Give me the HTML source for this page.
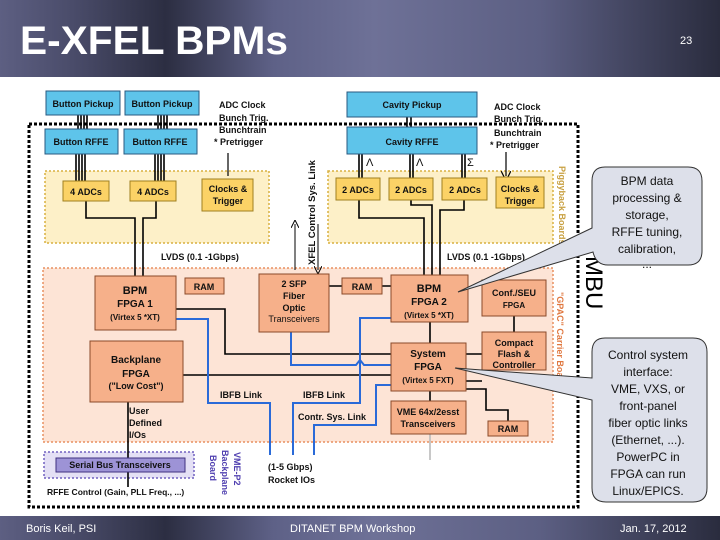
<!DOCTYPE html>
<html><head><meta charset="utf-8"><style>
html,body{margin:0;padding:0;width:720px;height:540px;overflow:hidden;background:#fff}
svg{display:block}
text{font-family:"Liberation Sans",sans-serif}
</style></head><body>
<svg width="720" height="540" viewBox="0 0 720 540" xmlns="http://www.w3.org/2000/svg">
<defs>
<linearGradient id="hd" x1="0" x2="1" y1="0" y2="0">
<stop offset="0" stop-color="#5d5f82"/><stop offset="0.1" stop-color="#4a4c6a"/><stop offset="0.23" stop-color="#2c2e42"/><stop offset="0.38" stop-color="#5e6187"/><stop offset="0.52" stop-color="#6e7197"/><stop offset="0.75" stop-color="#5c5f83"/><stop offset="1" stop-color="#2a2c3e"/>
</linearGradient>
<marker id="ar" markerWidth="8" markerHeight="8" refX="4" refY="4" orient="auto-start-reverse"><path d="M0,0 L8,4 L0,8" fill="none" stroke="#000" stroke-width="1"/></marker>
</defs>
<rect x="0" y="0" width="720" height="77" fill="url(#hd)"/>
<text x="20" y="54" font-size="40" font-weight="bold" fill="#fff" textLength="268" lengthAdjust="spacingAndGlyphs">E-XFEL BPMs</text>
<text x="680" y="44" font-size="11" fill="#fff">23</text>
<rect x="0" y="516" width="720" height="24" fill="url(#hd)"/>
<text x="26" y="532" font-size="11" fill="#fff">Boris Keil, PSI</text>
<text x="290" y="532" font-size="11" fill="#fff">DITANET BPM Workshop</text>
<text x="620" y="532" font-size="11" fill="#fff">Jan. 17, 2012</text>

<rect x="43" y="268" width="510" height="174" fill="#fde4d6" stroke="#e89060" stroke-width="1.5" stroke-dasharray="2,2"/>
<rect x="45" y="171" width="224" height="72" fill="#fdf0c8" stroke="#d8b040" stroke-width="1.5" stroke-dasharray="2,2"/>
<rect x="328" y="171" width="225" height="72" fill="#fdf0c8" stroke="#d8b040" stroke-width="1.5" stroke-dasharray="2,2"/>
<rect x="44" y="452" width="150" height="26" fill="#e4e0f5" stroke="#7060c0" stroke-width="1.5" stroke-dasharray="2,2"/>
<rect x="29" y="124" width="549" height="383" fill="none" stroke="#000" stroke-width="3" stroke-dasharray="3,2"/>

<g stroke="#000" stroke-width="1.6" fill="none">
<path d="M76,154V181M79,154V181M82,154V181M85,154V181"/>
<path d="M155,154V181M158,154V181M161,154V181M164,154V181"/>
<path d="M78,115V129M81,115V129M84,115V129M87,115V129"/>
<path d="M158,115V129M161,115V129M164,115V129M167,115V129"/>
<path d="M407,117V127M411,117V127"/>
<path d="M359,154V178M362,154V178M410,154V178M413,154V178M462,154V178M465,154V178"/>
<path d="M86,201V218H135V276M156,201V218H143V276"/>
<path d="M359,200V218H424V275M411,200V205H432V275M464,200V210H440V275"/>
<path d="M176,309H225V354H391M183,375H391"/>
<path d="M224,286H185M342,286H329M382,286H391"/>
<path d="M430,322V343M430,391V401M514,316V332M466,354H482M466,381H482M466,389H486V410H508V421"/>
<path d="M128,402V478M128,478V487"/>
<path d="M430,434V460" stroke="#bbb"/>
</g>
<path d="M228,153V176M506,152V176" stroke="#000" stroke-width="1.2" marker-end="url(#ar)"/>
<path d="M295,224V270M318,224V270" stroke="#000" stroke-width="1" marker-end="url(#ar)" marker-start="url(#ar)"/>

<g stroke="#2a6ad8" stroke-width="2" fill="none">
<path d="M176,319H208V403H270V455"/>
<path d="M291,332V365H356L360,360L364,365H391"/>
<path d="M391,318H360V403H293V455"/>
<path d="M391,385H376V425H314V455"/>
</g>

<g stroke="#2a5a80" stroke-width="1" fill="#5ec4ea">
<rect x="46" y="91" width="74" height="24"/><rect x="125" y="91" width="74" height="24"/>
<rect x="45" y="129" width="73" height="25"/><rect x="124" y="129" width="73" height="25"/>
<rect x="347" y="92" width="130" height="25"/><rect x="347" y="127" width="130" height="27"/>
</g>
<g stroke="#a08020" stroke-width="1" fill="#fbd266">
<rect x="63" y="181" width="46" height="20"/><rect x="130" y="181" width="46" height="20"/>
<rect x="202" y="179" width="51" height="32"/>
<rect x="336" y="178" width="44" height="22"/><rect x="389" y="178" width="44" height="22"/><rect x="442" y="178" width="45" height="22"/>
<rect x="496" y="177" width="48" height="31"/>
</g>
<g stroke="#8a4a2a" stroke-width="1" fill="#f6b08a">
<rect x="95" y="276" width="81" height="54"/><rect x="185" y="278" width="39" height="16"/>
<rect x="259" y="274" width="70" height="58"/><rect x="342" y="278" width="40" height="16"/>
<rect x="391" y="275" width="77" height="47"/><rect x="482" y="280" width="64" height="36"/>
<rect x="482" y="332" width="64" height="38"/><rect x="391" y="343" width="75" height="48"/>
<rect x="391" y="401" width="75" height="33"/><rect x="488" y="421" width="40" height="15"/>
<rect x="90" y="341" width="93" height="61"/>
</g>
<rect x="56" y="458" width="129" height="14" fill="#9d93d6" stroke="#403080"/>

<g font-size="9" font-weight="bold" fill="#111" text-anchor="middle">
<text x="83" y="107">Button Pickup</text><text x="162" y="107">Button Pickup</text>
<text x="81" y="145">Button RFFE</text><text x="160" y="145">Button RFFE</text>
<text x="412" y="108">Cavity Pickup</text><text x="412" y="145">Cavity RFFE</text>
<text x="86" y="195">4 ADCs</text><text x="153" y="195">4 ADCs</text>
<text x="228" y="192">Clocks &amp;</text><text x="228" y="204">Trigger</text>
<text x="358" y="193">2 ADCs</text><text x="411" y="193">2 ADCs</text><text x="465" y="193">2 ADCs</text>
<text x="520" y="192">Clocks &amp;</text><text x="520" y="204">Trigger</text>
<text x="135" y="294" font-size="11">BPM</text><text x="135" y="307" font-size="10">FPGA 1</text><text x="135" y="320" font-size="8">(Virtex  5 *XT)</text>
<text x="204" y="290">RAM</text><text x="362" y="290">RAM</text>
<text x="294" y="287">2 SFP</text><text x="294" y="299">Fiber</text><text x="294" y="311">Optic</text><text x="294" y="322" font-weight="normal">Transceivers</text>
<text x="429" y="292" font-size="11">BPM</text><text x="429" y="305" font-size="10">FPGA 2</text><text x="429" y="318" font-size="8">(Virtex  5 *XT)</text>
<text x="514" y="296">Conf./SEU</text><text x="514" y="308" font-size="8">FPGA</text>
<text x="514" y="346">Compact</text><text x="514" y="357">Flash &amp;</text><text x="514" y="368">Controller</text>
<text x="428" y="357" font-size="10">System</text><text x="428" y="370" font-size="10">FPGA</text><text x="428" y="383" font-size="8">(Virtex  5 FXT)</text>
<text x="428" y="415">VME 64x/2esst</text><text x="428" y="427">Transceivers</text>
<text x="508" y="432">RAM</text>
<text x="136" y="363" font-size="10">Backplane</text><text x="136" y="377" font-size="10">FPGA</text><text x="136" y="389">("Low Cost")</text>
<text x="120" y="468">Serial Bus Transceivers</text>
</g>
<g font-size="9" font-weight="bold" fill="#111">
<text x="219" y="108">ADC Clock</text><text x="219" y="121">Bunch Trig.</text><text x="219" y="133">Bunchtrain</text><text x="214" y="145">* Pretrigger</text>
<text x="494" y="110">ADC Clock</text><text x="494" y="122">Bunch Trig.</text><text x="494" y="136">Bunchtrain</text><text x="490" y="148">* Pretrigger</text>
<text x="161" y="260">LVDS (0.1 -1Gbps)</text><text x="447" y="260">LVDS (0.1 -1Gbps)</text>
<text x="129" y="414">User</text><text x="129" y="426">Defined</text><text x="129" y="438">I/Os</text>
<text x="220" y="398">IBFB Link</text><text x="303" y="398">IBFB Link</text><text x="298" y="420">Contr. Sys. Link</text>
<text x="268" y="470">(1-5 Gbps)</text><text x="268" y="483">Rocket IOs</text>
<text x="47" y="495" font-size="8.5">RFFE Control (Gain, PLL Freq., ...)</text>
<text x="366" y="166" font-weight="normal" font-size="11">Λ</text><text x="416" y="166" font-weight="normal" font-size="11">Λ</text><text x="467" y="166" font-weight="normal" font-size="11">Σ</text>
</g>
<text transform="translate(315,265) rotate(-90)" font-size="9.5" font-weight="bold" fill="#111">XFEL Control Sys. Link</text>
<text transform="translate(559,166) rotate(90)" font-size="9" font-weight="bold" fill="#c8a040">Piggyback Boards</text>
<text transform="translate(557,292) rotate(90)" font-size="9" font-weight="bold" fill="#e07840">"GPAC" Carrier Board</text>
<text transform="translate(234,452) rotate(90)" font-size="9" font-weight="bold" fill="#5040b0">VME-P2</text>
<text transform="translate(222,450) rotate(90)" font-size="9" font-weight="bold" fill="#5040b0">Backplane</text>
<text transform="translate(210,455) rotate(90)" font-size="9" font-weight="bold" fill="#5040b0">Board</text>
<text transform="translate(586,256) rotate(90)" font-size="24" fill="#000">MBU</text>

<g fill="#dde0ea" stroke="#333" stroke-width="1">
<path d="M605,167H688Q702,167 702,181V251Q702,265 688,265H608Q596,265 593,252L458,292L592,228V181Q592,167 605,167Z"/>
<path d="M605,338H693Q707,338 707,352V488Q707,502 693,502H606Q592,502 592,488V400L455,368L592,378V352Q592,338 605,338Z"/>
</g>
<g font-size="12" fill="#111" text-anchor="middle">
<text x="647" y="185">BPM data</text><text x="647" y="202">processing &amp;</text><text x="647" y="219">storage,</text><text x="647" y="236">RFFE tuning,</text><text x="647" y="253">calibration,</text><text x="647" y="268">...</text>
<text x="648" y="359">Control system</text><text x="648" y="376">interface:</text><text x="648" y="393">VME, VXS, or</text><text x="648" y="410">front-panel</text><text x="648" y="427">fiber optic links</text><text x="648" y="444">(Ethernet, ...).</text><text x="648" y="461">PowerPC in</text><text x="648" y="478">FPGA can run</text><text x="648" y="495">Linux/EPICS.</text>
</g>
</svg>
</body></html>
